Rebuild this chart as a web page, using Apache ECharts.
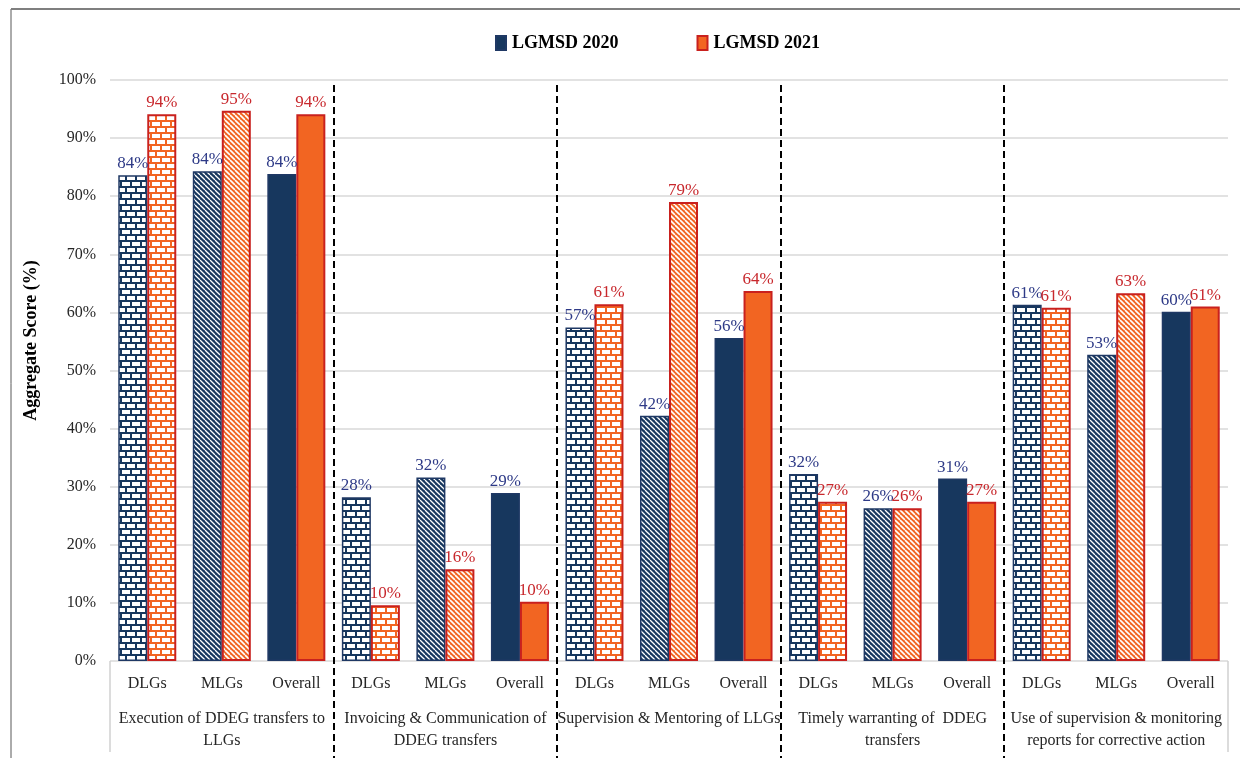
<!DOCTYPE html>
<html>
<head>
<meta charset="utf-8">
<script src="https://cdn.jsdelivr.net/npm/echarts@6/dist/echarts.min.js"></script>
<style>
html,body{margin:0;padding:0;background:#fff;}
#chart{width:1240px;height:758px;}
</style>
</head>
<body>
<div id="chart"></div>
<script>
// ---- data ----
const subCategories = ['DLGs', 'MLGs', 'Overall'];
const groupLabels = [
  'Execution of DDEG transfers to\nLLGs',
  'Invoicing & Communication of\nDDEG transfers',
  'Supervision & Mentoring of LLGs',
  'Timely warranting of  DDEG\ntransfers',
  'Use of supervision & monitoring\nreports for corrective action'
];
const seriesNames = ['LGMSD 2020', 'LGMSD 2021'];
const lgmsd2020 = [83.6, 84.3, 83.8, 28.2, 31.6, 28.9, 57.4, 42.2, 55.6, 32.2, 26.3, 31.4, 61.3, 52.7, 60.1];
const lgmsd2021 = [94.1, 94.7, 94.1, 9.6, 15.8, 10.2, 61.4, 79.0, 63.7, 27.4, 26.3, 27.4, 60.8, 63.3, 61.0];
const yTicks = [0, 10, 20, 30, 40, 50, 60, 70, 80, 90, 100];

// ---- styles ----
const NAVY = '#17375E';
const ORANGE = '#F26522';
const RED = '#C9211E';
const FONT = '"Liberation Serif", "Times New Roman", serif';

function brick(color) {
  const c = document.createElement('canvas');
  c.width = 10; c.height = 12;
  const g = c.getContext('2d');
  g.fillStyle = color; g.fillRect(0, 0, 10, 12);
  g.fillStyle = '#fff';
  g.fillRect(2, 2, 8, 4);
  g.fillRect(0, 8, 5, 4);
  g.fillRect(7, 8, 3, 4);
  return { image: c, repeat: 'repeat' };
}
function stripes(color, lw) {
  const c = document.createElement('canvas');
  c.width = 5; c.height = 5;
  const g = c.getContext('2d');
  g.fillStyle = color; g.fillRect(0, 0, 5, 5);
  g.strokeStyle = '#fff'; g.lineWidth = lw;
  for (const k of [-5, 0, 5]) {
    g.beginPath(); g.moveTo(k, 0); g.lineTo(k + 5, 5); g.stroke();
  }
  return { image: c, repeat: 'repeat' };
}
const fills2020 = [brick(NAVY), stripes(NAVY, 1.3), NAVY];
const fills2021 = [brick(ORANGE), stripes(ORANGE, 1.6), ORANGE];

const categories = [];
groupLabels.forEach(() => subCategories.forEach(s => categories.push(s)));

const chart = echarts.init(document.getElementById('chart'), null, { renderer: 'canvas' });

const labelFmt = p => Math.round(p.value) + '%';

chart.setOption({
  animation: false,
  backgroundColor: '#fff',
  textStyle: { fontFamily: FONT },
  legend: {
    data: seriesNames,
    left: 490, top: 29,
    itemWidth: 10, itemHeight: 14, itemGap: 78,
    icon: 'rect',
    textStyle: { fontFamily: FONT, fontSize: 18, fontWeight: 'bold', color: '#000', padding: [0, 0, 0, 1] }
  },
  grid: { left: 110, right: 12, top: 80, bottom: 97, containLabel: false },
  xAxis: [
    {
      type: 'category', data: categories,
      axisLine: { show: false }, axisTick: { show: false },
      axisLabel: { interval: 0, margin: 15, fontFamily: FONT, fontSize: 16, color: '#262626' }
    },
    {
      type: 'category', data: groupLabels, position: 'bottom',
      axisLine: { show: false }, axisTick: { show: false },
      axisLabel: { interval: 0, margin: 47, fontFamily: FONT, fontSize: 16, lineHeight: 22, color: '#262626' }
    }
  ],
  yAxis: {
    type: 'value', min: yTicks[0], max: yTicks[yTicks.length - 1], interval: yTicks[1] - yTicks[0],
    name: 'Aggregate Score (%)', nameLocation: 'middle', nameGap: 70,
    nameTextStyle: { fontFamily: FONT, fontSize: 18, fontWeight: 'bold', color: '#000', padding: [0, 0, 0, 60] },
    axisLine: { show: false }, axisTick: { show: false },
    axisLabel: { formatter: '{value}%', margin: 14, fontFamily: FONT, fontSize: 16, color: '#262626' },
    splitLine: { lineStyle: { color: '#D9D9D9', width: 1.5 } }
  },
  series: [
    {
      name: seriesNames[0], type: 'bar', xAxisIndex: 0, barWidth: 29, barGap: '0%',
      itemStyle: { color: NAVY, borderColor: '#1F3864', borderWidth: 1.5 },
      label: { show: true, position: 'top', distance: 3, formatter: labelFmt, fontFamily: FONT, fontSize: 17, color: '#2E3A87' },
      data: lgmsd2020.map((v, i) => ({ value: v, itemStyle: { color: fills2020[i % 3] } }))
    },
    {
      name: seriesNames[1], type: 'bar', xAxisIndex: 0, barWidth: 29, barGap: '0%',
      itemStyle: { color: ORANGE, borderColor: RED, borderWidth: 2 },
      label: { show: true, position: 'top', distance: 3, formatter: labelFmt, fontFamily: FONT, fontSize: 17, color: '#C8282D' },
      data: lgmsd2021.map((v, i) => ({ value: v, itemStyle: { color: fills2021[i % 3] } }))
    }
  ]
});

// separators and frame computed from the axis scale
const p0 = chart.convertToPixel({ xAxisIndex: 0 }, 0);
const p1 = chart.convertToPixel({ xAxisIndex: 0 }, 1);
const cw = p1 - p0;
const left = p0 - cw / 2;
const right = left + cw * categories.length;
const yTop = chart.convertToPixel({ yAxisIndex: 0 }, yTicks[yTicks.length - 1]);
const yBot = chart.convertToPixel({ yAxisIndex: 0 }, 0);
const elems = [
  { type: 'line', shape: { x1: 11, y1: 9, x2: 11, y2: 758 }, style: { stroke: '#595959', lineWidth: 1 }, silent: true },
  { type: 'line', shape: { x1: 11, y1: 9, x2: 1240, y2: 9 }, style: { stroke: '#7F7F7F', lineWidth: 2 }, silent: true },
  { type: 'line', shape: { x1: left, y1: yBot, x2: left, y2: 752 }, style: { stroke: '#D0D0D0', lineWidth: 1.5 }, silent: true },
  { type: 'line', shape: { x1: right, y1: yBot, x2: right, y2: 752 }, style: { stroke: '#D0D0D0', lineWidth: 1.5 }, silent: true }
];
for (let g = 1; g < groupLabels.length; g++) {
  const x = Math.round(left + cw * subCategories.length * g);
  elems.push({
    type: 'line', shape: { x1: x, y1: yTop + 5, x2: x, y2: 758 },
    style: { stroke: '#000', lineWidth: 2, lineDash: [7, 4] }, silent: true, z: 10
  });
}
chart.setOption({ graphic: elems });
</script>
</body>
</html>
